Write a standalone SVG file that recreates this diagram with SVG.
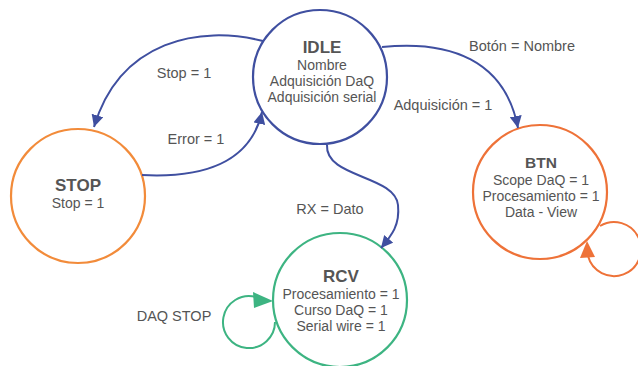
<svg xmlns="http://www.w3.org/2000/svg" width="638" height="366" viewBox="0 0 638 366">
<style>
text{font-family:"Liberation Sans",Arial,sans-serif;fill:#555;text-anchor:middle}
.t{font-size:14px}
.b{font-size:17px;font-weight:bold}
.bs{font-size:15.5px;font-weight:bold}
.lbl{font-size:14.5px}
.node{fill:#fff;stroke-width:2.2}
.edge{fill:none;stroke:#3f4fa0;stroke-width:2}
.loop{fill:none;stroke-width:2}
</style>
<defs>
<marker id="ab" markerWidth="12" markerHeight="12" refX="12" refY="6" orient="auto" markerUnits="userSpaceOnUse"><path d="M0,0 L12,6 L0,12 Z" fill="#3f4fa0"/></marker>
</defs>
<g id="IDLE">
<circle class="node" cx="320" cy="77" r="67" stroke="#3f4fa0"/>
<text class="b" x="322" y="53">IDLE</text>
<text class="t" x="322" y="70">Nombre</text>
<text class="t" x="322" y="86">Adquisición DaQ</text>
<text class="t" x="322" y="102">Adquisición serial</text>
</g>
<g id="STOP">
<circle class="node" cx="78" cy="196" r="67" stroke="#f28b3a"/>
<text class="b" x="78" y="191">STOP</text>
<text class="t" x="78" y="208">Stop = 1</text>
</g>
<g id="BTN">
<circle class="node" cx="540" cy="192" r="67" stroke="#ee7238"/>
<text class="bs" x="541" y="168">BTN</text>
<text class="t" x="541" y="185">Scope DaQ = 1</text>
<text class="t" x="541" y="201">Procesamiento = 1</text>
<text class="t" x="541" y="217">Data - View</text>
</g>
<g id="RCV">
<circle class="node" cx="340" cy="300" r="67" stroke="#3db482"/>
<text class="b" x="341" y="282">RCV</text>
<text class="t" x="341" y="299">Procesamiento = 1</text>
<text class="t" x="341" y="315">Curso DaQ = 1</text>
<text class="t" x="341" y="331">Serial wire = 1</text>
</g>
<g id="connectors">
<path class="edge" d="M263,41 C200,25 120,40 94,127" marker-end="url(#ab)"/>
<path class="edge" d="M142,175 C200,178 250,165 262,112" marker-end="url(#ab)"/>
<path class="edge" d="M382,47 C450,40 505,60 518,128" marker-end="url(#ab)"/>
<path class="edge" d="M327,145 C325,178 395,175 398,205 C400,225 392,235 381,248" marker-end="url(#ab)"/>
<path class="loop" d="M600,226 A27,27 0 1 1 588,256" stroke="#ee7238"/>
<path d="M580,258 L587,241 L595,257 Z" fill="#ee7238"/>
<path class="loop" d="M275,322 A26,26 0 1 1 256,297" stroke="#3db482"/>
<path d="M253,292 L273,301 L254,308 Z" fill="#3db482"/>
<text class="lbl" x="184" y="78">Stop = 1</text>
<text class="lbl" x="196" y="144">Error = 1</text>
<text class="lbl" x="522" y="51">Botón = Nombre</text>
<text class="lbl" x="443" y="110">Adquisición = 1</text>
<text class="lbl" x="330" y="214">RX = Dato</text>
<text class="lbl" x="174" y="321">DAQ STOP</text>
</g>
</svg>
